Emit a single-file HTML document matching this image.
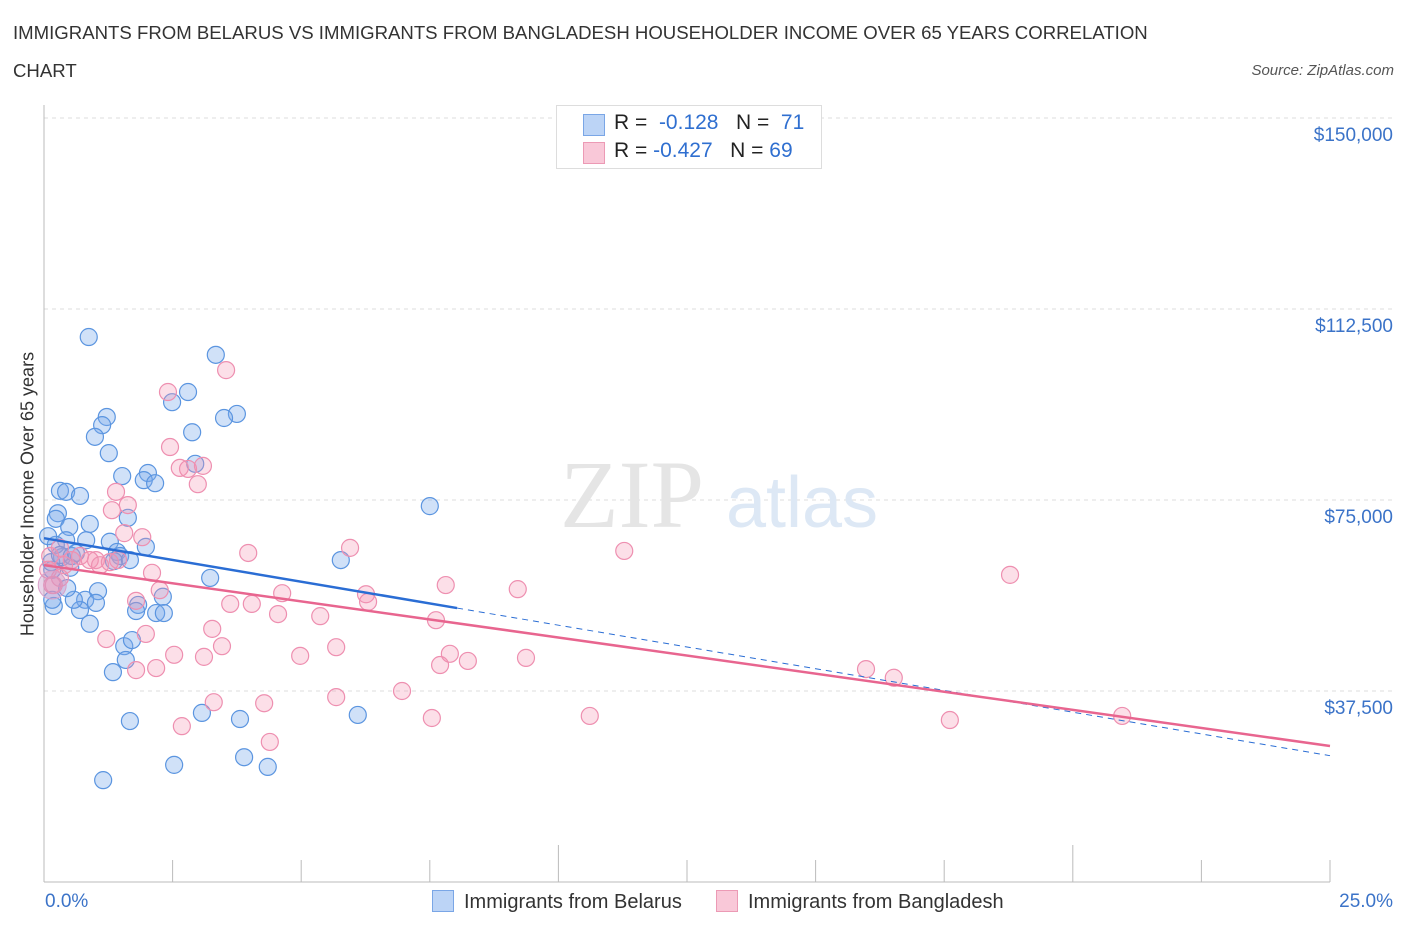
<!DOCTYPE html>
<html><head><meta charset="utf-8"><style>
body{margin:0;background:#fff;font-family:"Liberation Sans",sans-serif;}
#wrap{position:relative;width:1406px;height:930px;overflow:hidden;}
.t{position:absolute;white-space:nowrap;}
</style></head><body>
<div id="wrap">
<div class="t" style="left:13px;top:14px;font-size:18.6px;color:#333;line-height:38px;width:1180px;white-space:normal">IMMIGRANTS FROM BELARUS VS IMMIGRANTS FROM BANGLADESH HOUSEHOLDER INCOME OVER 65 YEARS CORRELATION CHART</div>
<div class="t" style="right:12px;top:62px;font-size:15px;color:#555;font-style:italic">Source: ZipAtlas.com</div>
<svg id="svg" width="1406" height="930" style="position:absolute;left:0;top:0"></svg>
</div>
<script>
const xTicks=[0,2.5,5,7.5,10,12.5,15,17.5,20,22.5,25];
const yTicks=[37500,75000,112500,150000];
const yTickLabels=["$37,500","$75,000","$112,500","$150,000"];
const belX=[0.87,3.34,2.80,2.49,3.75,3.50,1.22,1.13,0.99,2.88,1.26,2.94,2.02,1.52,1.94,2.16,0.31,0.43,0.70,7.50,0.27,0.23,0.49,0.89,1.63,0.82,0.43,1.28,1.98,1.42,1.48,0.35,1.36,5.77,0.51,3.23,1.05,0.80,1.01,0.19,2.31,1.83,1.79,2.18,2.33,0.70,0.89,1.56,1.59,1.34,1.71,3.07,3.81,1.67,6.10,2.53,3.89,4.35,1.15,0.16,0.14,0.23,0.08,0.31,0.54,1.67,0.16,0.62,0.58,0.45];
const belY=[107.0,103.5,96.2,94.2,91.9,91.1,91.3,89.7,87.4,88.3,84.2,82.1,80.3,79.7,78.9,78.3,76.8,76.6,75.8,73.8,72.4,71.3,69.7,70.3,71.5,67.1,67.1,66.8,65.8,64.8,64.0,63.8,63.0,63.2,61.7,59.7,57.1,55.4,54.8,54.2,56.0,54.4,53.2,52.8,52.8,53.4,50.7,46.3,43.6,41.2,47.5,33.2,32.0,31.6,32.8,23.0,24.5,22.6,20.0,61.3,62.8,66.2,67.9,64.2,64.0,63.2,55.4,64.6,55.4,57.7];
const banX=[2.41,3.54,2.45,2.64,2.80,3.09,2.99,1.40,1.63,1.32,1.91,1.56,3.97,5.95,11.28,18.78,2.10,1.44,1.01,0.54,0.31,0.12,0.31,0.19,7.81,9.21,2.25,4.63,6.26,6.30,1.79,3.62,4.04,4.55,5.37,7.62,3.27,1.98,1.21,3.46,2.53,3.11,4.98,5.68,7.70,8.24,7.89,9.37,2.18,1.79,15.98,16.52,6.96,3.30,4.28,5.68,7.54,10.61,17.61,20.96,2.68,4.39,0.70,0.89,1.09,0.08,0.39,1.28,0.16];
const banY=[96.2,100.5,85.4,81.3,81.1,81.7,78.1,76.6,74.0,73.0,67.7,68.5,64.6,65.6,65.0,60.3,60.7,63.2,63.2,63.2,65.6,64.0,59.7,58.3,58.3,57.5,57.3,56.7,56.5,55.0,55.2,54.6,54.6,52.6,52.2,51.4,49.7,48.7,47.7,46.3,44.6,44.2,44.4,46.1,42.6,43.4,44.8,44.0,42.0,41.6,41.8,40.1,37.5,35.3,35.1,36.3,32.2,32.6,31.8,32.6,30.6,27.5,64.0,63.2,62.2,61.3,62.2,62.8,58.3];
const belTrend=[67500,24800];
const banTrend=[62200,26700];
const NS="http://www.w3.org/2000/svg";
const svg=document.getElementById('svg');
function X(p){return 44+p*51.44;}
function Y(v){return 500-(v-75000)*191/37500;}
function mk(t,a,p){const e=document.createElementNS(NS,t);for(const k in a)e.setAttribute(k,a[k]);(p||svg).appendChild(e);return e;}
yTicks.forEach((v,i)=>{
 const g=mk('line',{x1:44,x2:1392,y1:Y(v),y2:Y(v),stroke:'#ddd','stroke-dasharray':'4,4'});
 
 
 const t=mk('text',{x:1393,y:Y(v)+23,'text-anchor':'end','font-size':19,fill:'#3b73c8','font-family':'Liberation Sans'});
 t.textContent=yTickLabels[i];
 
 
});
mk('line',{x1:44,x2:44,y1:105,y2:882,stroke:'#bbb'});
mk('line',{x1:44,x2:1330,y1:882,y2:882,stroke:'#bbb'});
xTicks.forEach((p,i)=>{
 const l=mk('line',{x1:X(p),x2:X(p),y1:882,y2:(i%4==0?845:860),stroke:'#bbb'});
 
 
});
const wm=mk('text',{x:632,y:527,'text-anchor':'middle','font-size':96,fill:'#e5e5e5','font-family':'Liberation Serif'});wm.textContent='ZIP';
const wm2=mk('text',{x:802,y:527,'text-anchor':'middle','font-size':72,fill:'#dde8f5','font-family':'Liberation Sans'});wm2.textContent='atlas';
function dots(xs,ys,fill,stroke,name){
 xs.forEach((p,i)=>{
  const c=mk('circle',{cx:X(p),cy:Y(ys[i]*1000),r:8.5,fill:fill,stroke:stroke,'stroke-width':1.2});
  
  
 });
}
dots(belX,belY,'rgba(120,170,235,0.35)','#5b95e0','belarus-point');
dots(banX,banY,'rgba(245,150,180,0.3)','#ee8fb0','bangladesh-point');
const big=mk('circle',{cx:X(0.16),cy:Y(58300),r:14,fill:'rgba(200,150,200,0.4)',stroke:'#d9a0c8'});


function bv(p){return belTrend[0]+(belTrend[1]-belTrend[0])*p/25;}
function pv(p){return banTrend[0]+(banTrend[1]-banTrend[0])*p/25;}
const bl=mk('line',{x1:X(0),y1:Y(bv(0)),x2:X(8.03),y2:Y(bv(8.03)),stroke:'#2a6dd4','stroke-width':2.5});


const bd=mk('line',{x1:X(8.03),y1:Y(bv(8.03)),x2:X(25),y2:Y(bv(25)),stroke:'#2a6dd4','stroke-width':1,'stroke-dasharray':'6,5'});


const pl=mk('line',{x1:X(0),y1:Y(pv(0)),x2:X(25),y2:Y(pv(25)),stroke:'#e8658f','stroke-width':2.5});


</script>
<div class="t" style="left:28px;top:494px;transform:translate(-50%,-50%) rotate(-90deg);font-size:18px;color:#333">Householder Income Over 65 years</div>
<div class="t" style="left:45px;top:891px;font-size:19px;color:#3b73c8">0.0%</div>
<div class="t" style="right:13px;top:891px;font-size:19px;color:#3b73c8">25.0%</div>
<div style="position:absolute;left:556px;top:105px;width:264px;height:62px;border:1px solid #ddd;background:#fff;font-size:21px;color:#222">
 <div style="position:absolute;left:26px;top:8px;width:20px;height:20px;background:#bcd4f6;border:1px solid #7aa6e6"></div>
 <div class="t" style="left:57px;top:5px">R = &nbsp;<span style="color:#2f6fd0">-0.128</span>&nbsp;&nbsp; N = &nbsp;<span style="color:#2f6fd0">71</span></div>
 <div style="position:absolute;left:26px;top:36px;width:20px;height:20px;background:#f9c8d8;border:1px solid #ec9ab5"></div>
 <div class="t" style="left:57px;top:33px">R = <span style="color:#2f6fd0">-0.427</span>&nbsp;&nbsp; N = <span style="color:#2f6fd0">69</span></div>
</div>
<div style="position:absolute;left:432px;top:890px;font-size:20px;color:#333">
 <span style="display:inline-block;width:20px;height:20px;background:#bcd4f6;border:1px solid #7aa6e6;vertical-align:-4px;margin-right:10px"></span>Immigrants from Belarus</div>
<div style="position:absolute;left:716px;top:890px;font-size:20px;color:#333">
 <span style="display:inline-block;width:20px;height:20px;background:#f9c8d8;border:1px solid #ec9ab5;vertical-align:-4px;margin-right:10px"></span>Immigrants from Bangladesh</div>
</body></html>
